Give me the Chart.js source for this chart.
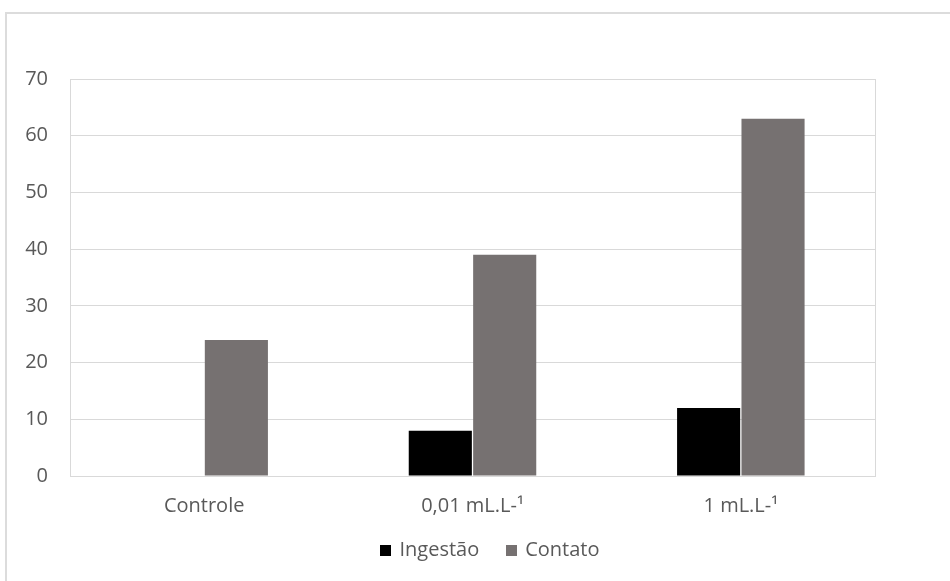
<!DOCTYPE html>
<html>
<head>
<meta charset="utf-8">
<script src="https://cdn.jsdelivr.net/npm/chart.js@4/dist/chart.umd.min.js"></script>
<style>
  html, body { margin: 0; padding: 0; background: #fff; }
  #wrap { position: relative; width: 950px; height: 581px; overflow: hidden; }
  #frame { position: absolute; left: 5px; top: 12px; width: 1000px; height: 700px;
           border-left: 2px solid #dcdcdc; border-top: 2px solid #dcdcdc; }
  canvas { position: absolute; left: 0; top: 0; }
</style>
</head>
<body>
<div id="wrap">
  <div id="frame"></div>
  <canvas id="c" width="950" height="581"></canvas>
</div>
<script>
// Treatments and measured responses
const categories = ['Controle', '0,01 mL.L-¹', '1 mL.L-¹'];
const ingestao = [0, 8, 12];
const contato = [24, 39, 63];
const yTicks = [0, 10, 20, 30, 40, 50, 60, 70];

const tickColor = '#595959';
const gridColor = '#d9d9d9';
const fontFamily = '"Open Sans", "Liberation Sans", sans-serif';
const fontSize = 20;

// Thin outline around the plotting area
const plotBorder = {
  id: 'plotBorder',
  afterDraw(chart) {
    const { ctx, chartArea: a } = chart;
    ctx.save();
    ctx.strokeStyle = gridColor;
    ctx.lineWidth = 1;
    ctx.strokeRect(Math.round(a.left) + 0.5, Math.round(a.top) + 0.5,
                   Math.round(a.right - a.left), Math.round(a.bottom - a.top));
    ctx.restore();
  }
};

// Compact legend row under the category labels
const bottomLegend = {
  id: 'bottomLegend',
  afterDraw(chart, args, opts) {
    const { ctx } = chart;
    const box = 11, textGap = 8, itemGap = 27;
    ctx.save();
    ctx.font = `${fontSize}px ${fontFamily}`;
    ctx.textBaseline = 'middle';
    const items = chart.data.datasets.map(ds => ({
      label: ds.label, color: ds.backgroundColor, w: ctx.measureText(ds.label).width
    }));
    const total = items.reduce((s, it) => s + box + textGap + it.w, 0) + itemGap * (items.length - 1);
    let x = opts.centerX - total / 2;
    const y = opts.centerY;
    items.forEach(it => {
      ctx.fillStyle = it.color;
      ctx.fillRect(Math.round(x), Math.round(y - box / 2), box, box);
      ctx.fillStyle = tickColor;
      ctx.fillText(it.label, x + box + textGap, y);
      x += box + textGap + it.w + itemGap;
    });
    ctx.restore();
  }
};

new Chart(document.getElementById('c'), {
  type: 'bar',
  data: {
    labels: categories,
    datasets: [
      { label: 'Ingestão', data: ingestao, backgroundColor: '#000000', borderWidth: 0 },
      { label: 'Contato', data: contato, backgroundColor: '#767171', borderWidth: 0 }
    ]
  },
  options: {
    responsive: false,
    animation: false,
    devicePixelRatio: 1,
    layout: { padding: { top: 79, right: 75, bottom: 55, left: 0 } },
    datasets: { bar: { categoryPercentage: 0.48, barPercentage: 0.98 } },
    plugins: {
      legend: { display: false },
      tooltip: { enabled: false },
      bottomLegend: { centerX: 490, centerY: 550 }
    },
    scales: {
      x: {
        grid: { display: false, drawTicks: false },
        border: { display: true, color: gridColor },
        ticks: { color: tickColor, font: { family: fontFamily, size: fontSize }, padding: 18 },
        afterFit(s) { s.height = 50; }
      },
      y: {
        min: 0,
        max: 70,
        afterBuildTicks(s) { s.ticks = yTicks.map(v => ({ value: v })); },
        grid: { color: gridColor, drawTicks: false },
        border: { display: true, color: gridColor },
        ticks: { color: tickColor, font: { family: fontFamily, size: fontSize }, padding: 22 },
        afterFit(s) { s.width = 70; }
      }
    }
  },
  plugins: [plotBorder, bottomLegend]
});
</script>
</body>
</html>
